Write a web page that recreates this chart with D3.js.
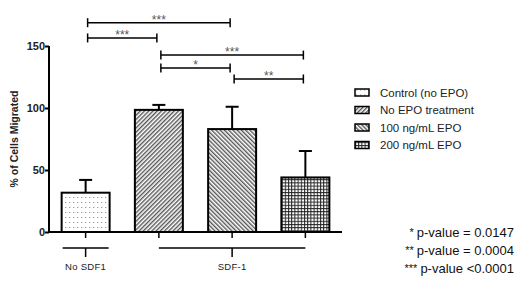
<!DOCTYPE html>
<html>
<head>
<meta charset="utf-8">
<script src="https://cdn.jsdelivr.net/npm/d3@7"></script>
<style>
  body { margin: 0; background: #fff; }
  svg { font-family: Arial, "Liberation Sans", sans-serif; }
</style>
</head>
<body>
<svg></svg>
<script>
const svgWidth = 520;
const svgHeight = 287;

// data
const categories = ["Control (no EPO)", "No EPO treatment", "100 ng/mL EPO", "200 ng/mL EPO"];
const means = [31.7, 98.5, 83, 44];
const errors = [10.3, 4, 18, 21.3];
const yTicks = [0, 50, 100, 150];
// significance brackets: from bar, to bar, stars, height (value units)
const sigFrom = [0, 0, 1, 1, 2];
const sigTo = [2, 1, 3, 2, 3];
const sigStars = ["***", "***", "***", "*", "**"];
const sigLevel = [168.8, 156.5, 142.7, 132.3, 123.4];
const groupNames = ["No SDF1", "SDF-1"];
const pStars = ["*", "**", "***"];
const pTexts = ["p-value = 0.0147", "p-value = 0.0004", "p-value <0.0001"];
const patternIds = ["pDots", "pDiagR", "pDiagL", "pGrid"];

const svg = d3.select("svg")
    .attr("width", svgWidth)
    .attr("height", svgHeight);

const defs = svg.append("defs");

// dotted pattern (control)
const pd = defs.append("pattern").attr("id", "pDots")
    .attr("patternUnits", "userSpaceOnUse").attr("width", 4).attr("height", 5);
pd.append("rect").attr("width", 4).attr("height", 5).attr("fill", "#fff");
pd.append("rect").attr("x", 1).attr("y", 2).attr("width", 1.3).attr("height", 1).attr("fill", "#999");

// diagonal "/" (no EPO)
const pr = defs.append("pattern").attr("id", "pDiagR")
    .attr("patternUnits", "userSpaceOnUse").attr("width", 3).attr("height", 3)
    .attr("patternTransform", "rotate(45)");
pr.append("rect").attr("width", 3).attr("height", 3).attr("fill", "#fff");
pr.append("rect").attr("width", 1.4).attr("height", 3).attr("fill", "#555");

// diagonal "\" (100)
const pl = defs.append("pattern").attr("id", "pDiagL")
    .attr("patternUnits", "userSpaceOnUse").attr("width", 3).attr("height", 3)
    .attr("patternTransform", "rotate(-45)");
pl.append("rect").attr("width", 3).attr("height", 3).attr("fill", "#fff");
pl.append("rect").attr("width", 1.4).attr("height", 3).attr("fill", "#555");

// grid (200)
const pg = defs.append("pattern").attr("id", "pGrid")
    .attr("patternUnits", "userSpaceOnUse").attr("width", 3.2).attr("height", 3.2);
pg.append("rect").attr("width", 3.2).attr("height", 3.2).attr("fill", "#fff");
pg.append("rect").attr("width", 3.2).attr("height", 1).attr("fill", "#222");
pg.append("rect").attr("width", 1).attr("height", 3.2).attr("fill", "#222");

const x = d3.scaleBand()
    .domain(d3.range(categories.length))
    .range([49, 342])
    .paddingInner(0.345)
    .paddingOuter(0.1725);

const y = d3.scaleLinear()
    .domain([0, 150])
    .range([232, 46]);

const cx = i => x(i) + x.bandwidth() / 2;

// bars
svg.selectAll(".bar")
    .data(means)
    .enter().append("rect")
    .attr("class", "bar")
    .attr("x", (d, i) => x(i))
    .attr("y", d => y(d))
    .attr("width", x.bandwidth())
    .attr("height", d => y(0) - y(d))
    .attr("fill", (d, i) => "url(#" + patternIds[i] + ")")
    .attr("stroke", "#000")
    .attr("stroke-width", 2);

// error bars (upper only)
const eb = svg.selectAll(".err")
    .data(means)
    .enter().append("g")
    .attr("class", "err")
    .attr("stroke", "#000")
    .attr("stroke-width", 2);
eb.append("line")
    .attr("x1", (d, i) => cx(i)).attr("x2", (d, i) => cx(i))
    .attr("y1", d => y(d)).attr("y2", (d, i) => y(d + errors[i]));
eb.append("line")
    .attr("x1", (d, i) => cx(i) - 6.5).attr("x2", (d, i) => cx(i) + 6.5)
    .attr("y1", (d, i) => y(d + errors[i])).attr("y2", (d, i) => y(d + errors[i]));

// y axis
const yAxis = svg.append("g")
    .attr("transform", "translate(49,0)")
    .call(d3.axisLeft(y).tickValues(yTicks).tickSize(4).tickSizeOuter(0));
yAxis.select(".domain").attr("stroke-width", 2).attr("d", "M0," + y(0) + "V" + y(150));
yAxis.selectAll(".tick line").attr("stroke-width", 2);
yAxis.selectAll(".tick text")
    .attr("x", -4)
    .attr("font-size", 11)
    .attr("font-weight", "bold")
    .attr("fill", "#222")
    .attr("font-family", "Arial, 'Liberation Sans', sans-serif");

// x axis
const xAxis = svg.append("g")
    .attr("transform", "translate(0," + y(0) + ")")
    .call(d3.axisBottom(x).tickSize(6).tickSizeOuter(0).tickFormat(""));
xAxis.select(".domain").attr("stroke-width", 2).attr("d", "M49,0H342");
xAxis.selectAll(".tick line").attr("stroke-width", 1.5);

// y label
svg.append("text")
    .attr("transform", "translate(18," + y(75) + ") rotate(-90)")
    .attr("text-anchor", "middle")
    .attr("font-size", 10.5)
    .attr("font-weight", "bold")
    .attr("fill", "#222")
    .text("% of Cells Migrated");

// significance brackets
const sig = svg.selectAll(".sig")
    .data(sigStars)
    .enter().append("g")
    .attr("class", "sig")
    .attr("stroke", "#000")
    .attr("stroke-width", 1.5);
sig.append("line")
    .attr("x1", (d, i) => cx(sigFrom[i]) + 2).attr("x2", (d, i) => cx(sigTo[i]) - 2)
    .attr("y1", (d, i) => y(sigLevel[i])).attr("y2", (d, i) => y(sigLevel[i]));
sig.append("line")
    .attr("x1", (d, i) => cx(sigFrom[i]) + 2).attr("x2", (d, i) => cx(sigFrom[i]) + 2)
    .attr("y1", (d, i) => y(sigLevel[i]) - 4.5).attr("y2", (d, i) => y(sigLevel[i]) + 4.5);
sig.append("line")
    .attr("x1", (d, i) => cx(sigTo[i]) - 2).attr("x2", (d, i) => cx(sigTo[i]) - 2)
    .attr("y1", (d, i) => y(sigLevel[i]) - 4.5).attr("y2", (d, i) => y(sigLevel[i]) + 4.5);
sig.append("text")
    .attr("stroke", "none")
    .attr("x", (d, i) => (cx(sigFrom[i]) + cx(sigTo[i])) / 2)
    .attr("y", (d, i) => y(sigLevel[i]) + 1)
    .attr("text-anchor", "middle")
    .attr("font-size", 12)
    .attr("fill", "#555")
    .text(d => d);

// group labels under x axis
const gy = 248;
const grp = svg.append("g").attr("stroke", "#000").attr("stroke-width", 1.5);
grp.append("line").attr("x1", x(0) + 1).attr("x2", x(0) + x.bandwidth() - 1).attr("y1", gy).attr("y2", gy);
grp.append("line").attr("x1", cx(0)).attr("x2", cx(0)).attr("y1", gy).attr("y2", gy + 9);
grp.append("line").attr("x1", cx(1)).attr("x2", cx(3)).attr("y1", gy).attr("y2", gy);
grp.append("line").attr("x1", cx(2)).attr("x2", cx(2)).attr("y1", gy).attr("y2", gy + 9);
svg.selectAll(".grpLabel")
    .data(groupNames)
    .enter().append("text")
    .attr("class", "grpLabel")
    .attr("x", (d, i) => i === 0 ? cx(0) : cx(2))
    .attr("y", 270)
    .attr("text-anchor", "middle")
    .attr("font-size", 9.5)
    .attr("letter-spacing", 0.3)
    .attr("fill", "#222")
    .text(d => d);

// legend
const legend = svg.selectAll(".legend")
    .data(categories)
    .enter().append("g")
    .attr("class", "legend")
    .attr("transform", (d, i) => "translate(355," + (92.5 + i * 17.5) + ")");
legend.append("rect")
    .attr("x", 0).attr("y", -3.5)
    .attr("width", 14).attr("height", 7)
    .attr("fill", (d, i) => "url(#" + patternIds[i] + ")")
    .attr("stroke", "#000")
    .attr("stroke-width", 1.5);
legend.append("text")
    .attr("x", 25)
    .attr("y", 0)
    .attr("dy", "0.35em")
    .attr("font-size", 11.5)
    .attr("fill", "#222")
    .text(d => d);

// p-value notes
const notes = svg.selectAll(".pnote")
    .data(pTexts)
    .enter().append("text")
    .attr("class", "pnote")
    .attr("x", 514)
    .attr("y", (d, i) => 237 + i * 17.8)
    .attr("dy", "0.35em")
    .attr("text-anchor", "end")
    .attr("font-size", 13)
    .attr("fill", "#111");
notes.append("tspan")
    .attr("font-size", 11)
    .attr("dy", "-0.1em")
    .text((d, i) => pStars[i] + " ");
notes.append("tspan")
    .attr("dy", "0.1em")
    .text(d => d);
</script>
</body>
</html>
